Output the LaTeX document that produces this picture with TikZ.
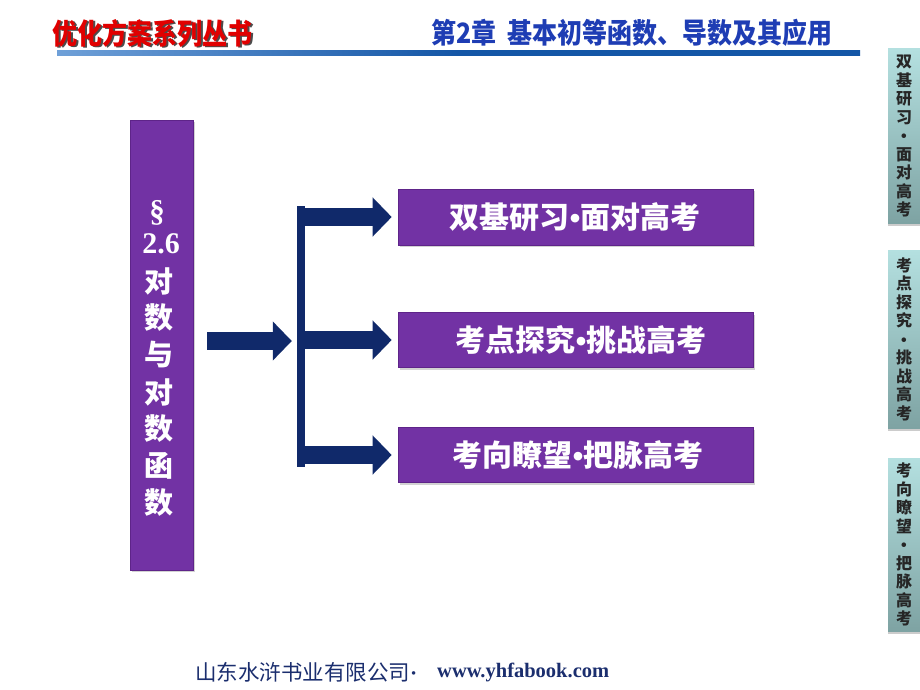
\documentclass[tikz,border=0pt]{standalone}
\usepackage{fontspec}
\setmainfont{Liberation Serif}
\newfontfamily\cjk{Noto Sans CJK SC}
\newfontfamily\latinsans{Liberation Sans}
\usetikzlibrary{arrows.meta,shadows}
\definecolor{purp}{HTML}{7232A4}
\definecolor{purpdark}{HTML}{5E2489}
\definecolor{navy}{HTML}{10296A}
\definecolor{hdrblue}{HTML}{1E3DB4}
\definecolor{hdrred}{HTML}{E10000}
\definecolor{tabtop}{HTML}{B4E0E0}
\definecolor{tabbot}{HTML}{7EA3A3}
\definecolor{footnavy}{HTML}{1B2E6E}
\definecolor{linelight}{HTML}{6FA0D8}
\definecolor{linedark}{HTML}{1456A6}
\newcommand{\nbul}{{\latinsans\bfseries •}}
\tikzset{
  purpbox/.style={rectangle, fill=purp, draw=purpdark, line width=0.6pt, inner sep=0pt,
    drop shadow={opacity=0.35, shadow xshift=1.5pt, shadow yshift=-2pt}},
  boxtext/.style={text=white, font=\cjk\bfseries\fontsize{30}{34}\selectfont},
  sectext/.style={text=white, inner sep=0pt},
  tabbox/.style={rectangle, top color=tabtop, bottom color=tabbot, draw=none, inner sep=0pt,
    minimum width=32pt, drop shadow={opacity=0.4, shadow xshift=0pt, shadow yshift=-2.5pt}},
  tabtext/.style={font=\cjk\bfseries\fontsize{16}{18.5}\selectfont, align=center, text=black!85, inner sep=0pt},
  blockarrow/.style={draw=navy, line width=18pt, -{Triangle[length=19pt, width=38pt, fill=navy]}},
}
\begin{document}
\begin{tikzpicture}[x=1pt,y=-1pt]
\useasboundingbox (0,0) rectangle (920,690);
\fill[white] (0,0) rectangle (920,690);

% header
\node[anchor=west, text=black!70, inner sep=0pt, yscale=1.15, font=\cjk\bfseries\fontsize{25}{28}\selectfont] (hredsh) at (54,34.5) {优化方案系列丛书};
\node[anchor=west, text=hdrred, inner sep=0pt, yscale=1.15, font=\cjk\bfseries\fontsize{25}{28}\selectfont] (hred) at (52,33) {优化方案系列丛书};
\node[anchor=east, text=hdrblue, inner sep=0pt, yscale=1.12, font=\cjk\bfseries\fontsize{25}{28}\selectfont] (hblue) at (833,33) {第2章\hspace{0.45em}基本初等函数、导数及其应用};
\shade[left color=linelight, right color=linedark, middle color=linedark] (57,51) rectangle (860,55.5);

% right tabs
\node[tabbox, minimum height=174pt] (t1) at (904,136) {};
\node[tabtext] (t1t) at (t1.center) {双\\基\\研\\习\\\nbul\\面\\对\\高\\考};
\node[tabbox, minimum height=178pt] (t2) at (904,339) {};
\node[tabtext] (t2t) at (t2.center) {考\\点\\探\\究\\\nbul\\挑\\战\\高\\考};
\node[tabbox, minimum height=173pt] (t3) at (904,544.5) {};
\node[tabtext] (t3t) at (t3.center) {考\\向\\瞭\\望\\\nbul\\把\\脉\\高\\考};

% left section box
\node[purpbox, minimum width=63pt, minimum height=450pt] (sec) at (161.5,345) {};
\node[sectext, font=\bfseries\fontsize{31}{34}\selectfont] (s1) at (157,213) {\S};
\node[sectext, font=\bfseries\fontsize{30}{34}\selectfont] (s2) at (161,244) {2.6};
\foreach \ch/\yy [count=\i from 3] in {对/281, 数/318, 与/355, 对/392, 数/429, 函/466, 数/503}
  \node[sectext, font=\cjk\bfseries\fontsize{29}{34}\selectfont] (s\i) at (159,\yy) {\ch};

% bar
\node[rectangle, fill=navy, inner sep=0pt, minimum width=8pt, minimum height=261pt] (bar) at (301,336.5) {};

% right boxes
\node[purpbox, minimum width=355pt, minimum height=56pt] (b1) at (575.5,217) {};
\node[boxtext] (b1t) at (575,217) {双基研习\nbul 面对高考};
\node[purpbox, minimum width=355pt, minimum height=55pt] (b2) at (575.5,340) {};
\node[boxtext] (b2t) at (581,340) {考点探究\nbul 挑战高考};
\node[purpbox, minimum width=355pt, minimum height=55pt] (b3) at (575.5,455) {};
\node[boxtext] (b3t) at (578,455) {考向瞭望\nbul 把脉高考};

% arrows
\coordinate (a0) at (207,341);
\draw[blockarrow, shorten >=5pt] (a0) -- (a0 -| bar.west);
\draw[blockarrow, shorten >=6pt] (bar.east |- b1.west) -- (b1.west);
\draw[blockarrow, shorten >=6pt] (bar.east |- b2.west) -- (b2.west);
\draw[blockarrow, shorten >=6pt] (bar.east |- b3.west) -- (b3.west);

% footer
\node[anchor=west, inner sep=0pt, text=footnavy, font=\cjk\fontsize{21.5}{24}\selectfont] (foot) at (195,672)
  {山东水浒书业有限公司{\rmfamily\bfseries ·}};
\node[anchor=west, inner sep=0pt, text=footnavy, font=\bfseries\fontsize{20.5}{24}\selectfont] (web) at (437,672) {www.yhfabook.com};
\end{tikzpicture}
\end{document}
